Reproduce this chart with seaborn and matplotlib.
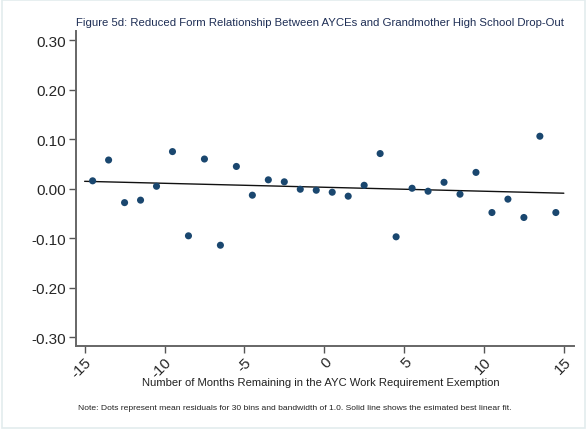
import numpy as np
import pandas as pd
import matplotlib
matplotlib.use("Agg")
import matplotlib.pyplot as plt
import seaborn as sns

# bin midpoints (months remaining) and mean residuals
months = [-14.5, -13.5, -12.5, -11.5, -10.5, -9.5, -8.5, -7.5, -6.5, -5.5,
          -4.5, -3.5, -2.5, -1.5, -0.5, 0.5, 1.5, 2.5, 3.5, 4.5,
          5.5, 6.5, 7.5, 8.5, 9.5, 10.5, 11.5, 12.5, 13.5, 14.5]
resid = [0.016, 0.058, -0.028, -0.023, 0.005, 0.075, -0.095, 0.060, -0.114, 0.045,
         -0.013, 0.018, 0.014, -0.001, -0.003, -0.007, -0.015, 0.007, 0.071, -0.097,
         0.001, -0.005, 0.013, -0.011, 0.033, -0.048, -0.021, -0.058, 0.106, -0.048]

# fitted line end points
fit_x = [-15, 15]
fit_y = [0.015, -0.009]

xticks = [-15, -10, -5, 0, 5, 10, 15]
yticks = [-0.30, -0.20, -0.10, 0.00, 0.10, 0.20, 0.30]

df = pd.DataFrame({"months": months, "resid": resid})
fit = pd.DataFrame({"x": fit_x, "y": fit_y})

sns.set_style("ticks")
plt.rcParams["font.family"] = ["Liberation Sans", "DejaVu Sans"]

fig = plt.figure(figsize=(5.88, 4.35), dpi=100)
ax = fig.add_axes([0.129, 0.2016, 0.847, 0.7244])

sns.lineplot(data=fit, x="x", y="y", color="#111111", linewidth=1.0, ax=ax)
sns.scatterplot(data=df, x="months", y="resid", color="#1a476f", s=26,
                edgecolor="none", ax=ax, zorder=3)

ax.set_xlim(-15.55, 15.63)
ax.set_ylim(-0.318, 0.318)
ax.set_xticks(xticks)
ax.set_xticklabels([str(t) for t in xticks], rotation=45, ha="right",
                   va="top", rotation_mode="anchor")
ax.set_yticks(yticks)
ax.set_yticklabels(["%.2f" % t for t in yticks])
ax.tick_params(axis="both", labelsize=11, length=5, width=1, color="#555555",
               direction="out", pad=2, left=True, bottom=True)
ax.tick_params(axis="x", pad=1)
ax.set_xlabel("")
ax.set_ylabel("")

sns.despine(ax=ax)
for side in ["left", "bottom"]:
    ax.spines[side].set_color("#666666")
    ax.spines[side].set_linewidth(1.4)

fig.text(0.545, 0.947, "Figure 5d: Reduced Form Relationship Between AYCEs and Grandmother High School Drop-Out",
         ha="center", va="center", fontsize=8.2, color="#1e2e55")
fig.text(0.545, 0.120, "Number of Months Remaining in the AYC Work Requirement Exemption",
         ha="center", va="center", fontsize=8.1, color="#222222")
fig.text(0.133, 0.062, "Note: Dots represent mean residuals for 30 bins and bandwidth of 1.0. Solid line shows the esimated best linear fit.",
         ha="left", va="center", fontsize=6.1, color="#222222")

# faint outer frame
fig.patches.append(plt.Rectangle((0.003, 0.013), 0.992, 0.985, transform=fig.transFigure,
                                 fill=False, edgecolor="#e3ecee", linewidth=1.2))

fig.savefig("out.png", dpi=100)
